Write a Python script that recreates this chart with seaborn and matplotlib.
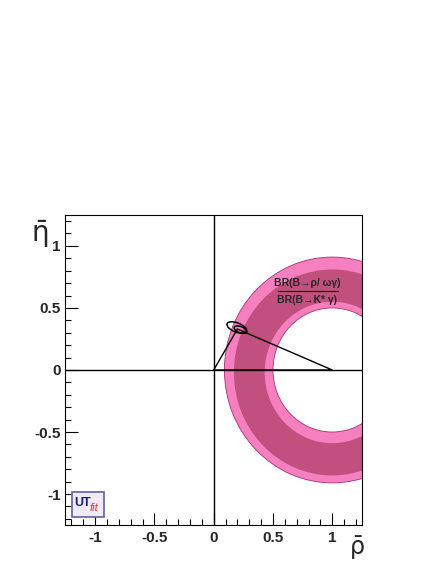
import matplotlib
matplotlib.use("Agg")
import matplotlib.pyplot as plt
from matplotlib.patches import Wedge, Ellipse, Rectangle
from matplotlib.ticker import MultipleLocator, FuncFormatter
import seaborn as sns

# ring of the BR(B->rho/omega gamma)/BR(B->K* gamma) constraint
ring_center_light = (1.0, 0.0)
ring_radii_light = [0.50, 0.91]
ring_center_dark = (1.0, -0.02)
ring_radii_dark = [0.57, 0.83]

# unitarity triangle vertices
rho_apex = [0.0, 1.0, 0.20]
eta_apex = [0.0, 0.0, 0.33]

# fit contours (centre rho, centre eta, width, height, angle)
contour_rho = [0.195, 0.225]
contour_eta = [0.342, 0.325]
contour_w = [0.175, 0.11]
contour_h = [0.075, 0.05]
contour_ang = [-20, -20]

sns.set_theme(style="white")
plt.rcParams['font.family'] = ['Liberation Sans', 'DejaVu Sans']

fig = plt.figure(figsize=(4.36, 5.64), dpi=100)
ax = fig.add_axes([0.149, 0.069, 0.681, 0.550])

light = "#f67fbf"
dark = "#c2507f"
edge = "#a8306a"
ax.add_patch(Wedge(ring_center_light, ring_radii_light[1], 0, 360,
                   width=ring_radii_light[1] - ring_radii_light[0],
                   facecolor=light, edgecolor=edge, lw=0.6, zorder=1))
ax.add_patch(Wedge(ring_center_dark, ring_radii_dark[1], 0, 360,
                   width=ring_radii_dark[1] - ring_radii_dark[0],
                   facecolor=dark, edgecolor="none", zorder=2))

ax.axhline(0, color="black", lw=1.0, zorder=3)
ax.axvline(0, color="black", lw=1.0, zorder=3)
ax.plot(rho_apex + [rho_apex[0]], eta_apex + [eta_apex[0]], color="black", lw=1.0, zorder=4)

for i in range(len(contour_rho)):
    ax.add_patch(Ellipse((contour_rho[i], contour_eta[i]), contour_w[i], contour_h[i],
                         angle=contour_ang[i], facecolor="none", edgecolor="black",
                         lw=1.1, zorder=5))

# ratio label
ax.text(0.79, 0.705, "BR(B\u2192\u03c1/ \u03c9\u03b3)", ha="center", va="center",
        fontsize=7.5, fontweight="bold", zorder=6)
ax.plot([0.54, 1.05], [0.635, 0.635], color="black", lw=0.8, zorder=6)
ax.text(0.79, 0.565, "BR(B\u2192K* \u03b3)", ha="center", va="center",
        fontsize=7.5, fontweight="bold", zorder=6)

ax.set_xlim(-1.255, 1.25)
ax.set_ylim(-1.25, 1.25)
ax.xaxis.set_major_locator(MultipleLocator(0.5))
ax.xaxis.set_minor_locator(MultipleLocator(0.1))
ax.yaxis.set_major_locator(MultipleLocator(0.5))
ax.yaxis.set_minor_locator(MultipleLocator(0.1))
ax.tick_params(which="both", direction="in", bottom=True, left=True, top=False, right=False,
               labelsize=11, width=0.8, color="black")
ax.tick_params(axis="x", pad=4)
ax.tick_params(axis="y", pad=3)
ax.tick_params(which="major", length=9)
ax.tick_params(which="minor", length=4.5)
ax.xaxis.set_major_formatter(FuncFormatter(lambda v, p: f"{v:g}"))
ax.yaxis.set_major_formatter(FuncFormatter(lambda v, p: f"{v:g}"))
for lab in ax.get_xticklabels() + ax.get_yticklabels():
    lab.set_fontweight("bold")
for s in ax.spines.values():
    s.set_color("black")
    s.set_linewidth(0.8)

# axis titles: barred rho and eta
fig.text(0.819, 0.008, "\u03c1\u0304", fontsize=17, ha="center", va="bottom",
         family=['DejaVu Sans'])
fig.text(0.092, 0.562, "\u03b7\u0304", fontsize=20, ha="center", va="bottom",
         family=['DejaVu Sans'])

# UTfit logo
ax.add_patch(Rectangle((-1.198, -1.185), 0.27, 0.20, facecolor="#efeaf3",
                       edgecolor="#6060a8", lw=1.2, zorder=6))
ax.text(-1.18, -1.07, "UT", fontsize=9, fontweight="bold", color="#1a1a70",
        ha="left", va="center", zorder=7)
ax.text(-1.045, -1.11, "fit", fontsize=8, fontstyle="italic", color="#e03030",
        ha="left", va="center", zorder=7)

fig.savefig("out.png", dpi=100)
